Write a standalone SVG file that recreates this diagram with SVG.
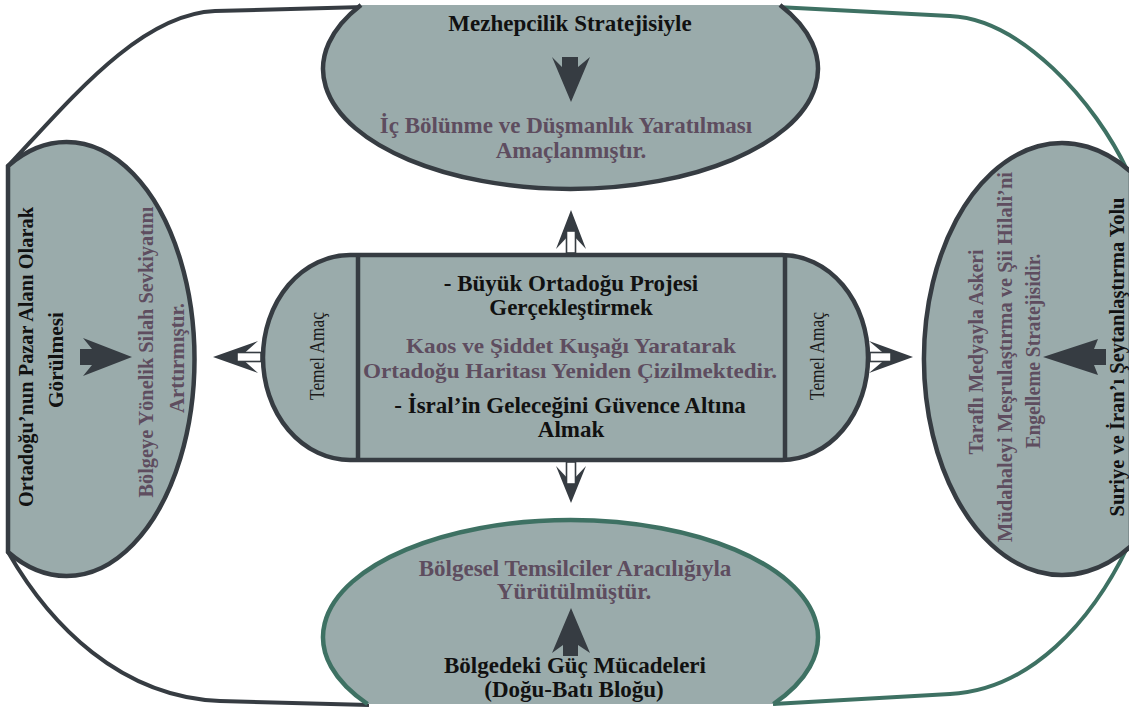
<svg xmlns="http://www.w3.org/2000/svg" width="1129" height="708" viewBox="0 0 1129 708">
<style>
.dk{stroke:#363c42;stroke-width:4.5;fill:#9aabab}
.gr{stroke:#3e7163;stroke-width:4.5;fill:#9aabab}
.cd{fill:none;stroke:#363c42;stroke-width:4}
.cg{fill:none;stroke:#3e7163;stroke-width:4}
.sol{fill:#363c42}
.shaft{fill:#ffffff;stroke:#363c42;stroke-width:1.6}
text{font-family:"Liberation Serif","Times New Roman",serif;font-size:23px;font-weight:bold;text-anchor:middle}
.b{fill:#111111}
.p{fill:#5e4d5f}
.v{font-size:22px;text-anchor:start}
.s{font-size:21px}
.r{font-weight:normal;font-size:20px;text-anchor:start;fill:#1a1a1a}
</style>
<rect width="1129" height="708" fill="#ffffff"/>

<g id="connectors">
<path class="cd" d="M 364 7 L 215 11 C 140 14, 70 100, 8 166"/>
<path class="cg" d="M 777 7 L 950 16 C 1020 19, 1095 100, 1129 174"/>
<path class="cd" d="M 8 552 C 50 625, 120 697, 220 701 L 369 705"/>
<path class="cg" d="M 1129 544 C 1092 622, 1030 690, 950 694 L 773 704"/>
</g>

<g id="node-top">
<path class="dk" d="M 361 5 A 247.5 120 0 1 0 780 5"/>
<polygon class="sol" points="562,57 578,57 578,67 590,57 571,102 552,57 562,67"/>
<text class="b" x="570" y="31">Mezhepcilik Stratejisiyle</text>
<text class="p" x="566" y="133">İç Bölünme ve Düşmanlık Yaratılması</text>
<text class="p" x="571" y="158">Amaçlanmıştır.</text>
</g>

<g id="node-left">
<path class="dk" d="M 8 166 A 128 217 0 1 1 8 552 Z"/>
<polygon class="sol" points="80,349 92,349 83,338 132,357 83,376 92,365 80,365"/>
<text class="b v" transform="translate(33,357) rotate(-90)" x="-150" textLength="300" lengthAdjust="spacingAndGlyphs">Ortadoğu’nun Pazar Alanı Olarak</text>
<text class="b v" transform="translate(63,360) rotate(-90)" x="-48" textLength="96" lengthAdjust="spacingAndGlyphs">Görülmesi</text>
<text class="p v" transform="translate(153,352) rotate(-90)" x="-145.5" textLength="291" lengthAdjust="spacingAndGlyphs">Bölgeye Yönelik Silah Sevkiyatını</text>
<text class="p v" transform="translate(184,358) rotate(-90)" x="-55" textLength="110" lengthAdjust="spacingAndGlyphs">Arttırmıştır.</text>
</g>

<g id="node-right">
<path class="dk" d="M 1131 172 A 138 216 0 1 0 1131 546 Z"/>
<polygon class="sol" points="1106,349 1094,349 1098,339 1043,357 1098,375 1094,365 1106,365"/>
<text class="p v" transform="translate(983,352) rotate(-90)" x="-102.5" textLength="205" lengthAdjust="spacingAndGlyphs">Taraflı Medyayla Askeri</text>
<text class="p v" transform="translate(1012,357) rotate(-90)" x="-185" textLength="370" lengthAdjust="spacingAndGlyphs">Müdahaleyi Meşrulaştırma ve Şii Hilali’ni</text>
<text class="p v" transform="translate(1040,351) rotate(-90)" x="-97.5" textLength="195" lengthAdjust="spacingAndGlyphs">Engelleme Stratejisidir.</text>
<text class="b v" transform="translate(1124,357) rotate(-90)" x="-159.5" textLength="319" lengthAdjust="spacingAndGlyphs">Suriye ve İran’ı Şeytanlaştırma Yolu</text>
</g>

<g id="node-bottom">
<path class="gr" d="M 367.5 704 A 247.5 117 0 1 1 773.5 704"/>
<polygon class="sol" points="571,608 590,653 578,645 578,656 563,656 563,645 552,653"/>
<text class="p" x="575" y="576">Bölgesel Temsilciler Aracılığıyla</text>
<text class="p" x="574" y="599">Yürütülmüştür.</text>
<text class="b" x="575" y="673">Bölgedeki Güç Mücadeleri</text>
<text class="b" x="574" y="697">(Doğu-Batı Bloğu)</text>
</g>

<g id="node-center">
<path class="dk" d="M 350 255 L 782 255 A 86 102.5 0 0 1 782 460 L 350 460 A 87 102.5 0 0 1 350 255 Z"/>
<line x1="358" y1="255" x2="358" y2="460" stroke="#363c42" stroke-width="4.5"/>
<line x1="785" y1="255" x2="785" y2="460" stroke="#363c42" stroke-width="4.5"/>
<text class="r" transform="translate(324,356) rotate(-90)" x="-44" textLength="88" lengthAdjust="spacingAndGlyphs">Temel Amaç</text>
<text class="r" transform="translate(824,356) rotate(-90)" x="-44" textLength="88" lengthAdjust="spacingAndGlyphs">Temel Amaç</text>
<text class="b" x="571" y="291">- Büyük Ortadoğu Projesi</text>
<text class="b" x="571" y="315">Gerçekleştirmek</text>
<text class="p s" x="571" y="353" textLength="330" lengthAdjust="spacingAndGlyphs">Kaos ve Şiddet Kuşağı Yaratarak</text>
<text class="p s" x="570" y="378" textLength="414" lengthAdjust="spacingAndGlyphs">Ortadoğu Haritası Yeniden Çizilmektedir.</text>
<text class="b" x="570" y="413">- İsral’in Geleceğini Güvence Altına</text>
<text class="b" x="571" y="437">Almak</text>
</g>

<g id="center-arrows">
<polygon class="sol" points="213,357 258,341 240,357 258,373"/>
<rect class="shaft" x="237" y="352.5" width="24" height="9"/>
<polygon class="sol" points="913,357 869,341 888,357 869,373"/>
<rect class="shaft" x="870" y="352.5" width="21" height="9"/>
<polygon class="sol" points="571,210 556,249 571,233 586,249"/>
<rect class="shaft" x="566.5" y="231" width="9" height="22"/>
<polygon class="sol" points="571,503 556,466 571,482 586,466"/>
<rect class="shaft" x="566.5" y="462" width="9" height="22"/>
</g>
</svg>
